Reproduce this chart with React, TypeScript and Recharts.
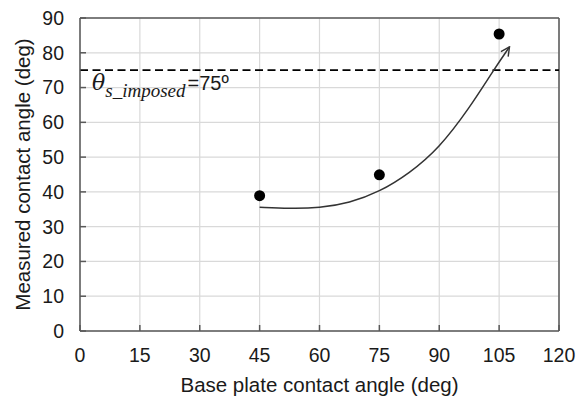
import React from "react";
import {
  CartesianGrid,
  ComposedChart,
  Label,
  Line,
  ReferenceLine,
  Scatter,
  XAxis,
  YAxis,
} from "recharts";

const X_TICKS = [0, 15, 30, 45, 60, 75, 90, 105, 120];
const Y_TICKS = [0, 10, 20, 30, 40, 50, 60, 70, 80, 90];

const measured = [
  { x: 45, y: 38.9 },
  { x: 75, y: 44.9 },
  { x: 105, y: 85.4 },
];

// hand-drawn trend arrow
const trend = [
  { x: 45, y: 35.6 },
  { x: 52.5, y: 35.2 },
  { x: 60, y: 35.35 },
  { x: 67.5, y: 36.8 },
  { x: 75, y: 40 },
  { x: 82.5, y: 45.3 },
  { x: 90, y: 52.6 },
  { x: 97.5, y: 64 },
  { x: 103.6, y: 75 },
  { x: 107.6, y: 81.7 },
];

const IMPOSED = 75;

const FONT = "'Liberation Sans', Arial, sans-serif";
const AXIS = "#595959";
const GRID = "#d9d9d9";

function ImposedLabel({ viewBox }: any) {
  const x = viewBox.x + 12;
  const y = viewBox.y + 20;
  return (
    <text x={x} y={y} fill="#1a1a1a">
      <tspan fontFamily="'DejaVu Serif', 'Liberation Serif', serif" fontStyle="italic" fontSize={22}>
        θ
      </tspan>
      <tspan
        fontFamily="'Liberation Serif', serif"
        fontStyle="italic"
        fontSize={19}
        dy={7}
      >
        s_imposed
      </tspan>
      <tspan fontFamily={FONT} fontSize={20} dx={2} dy={-7}>
        =75º
      </tspan>
    </text>
  );
}

export default function App() {
  return (
    <div style={{ position: "absolute", left: 0, top: 0, background: "#fff" }}>
      <svg width={0} height={0} style={{ position: "absolute" }}>
        <defs>
          <marker
            id="arrowHead"
            viewBox="0 0 10 10"
            refX={9}
            refY={5}
            markerWidth={11}
            markerHeight={11}
            markerUnits="userSpaceOnUse"
            orient="auto"
          >
            <path d="M1,1 L9,5 L1,9" fill="none" stroke="#333" strokeWidth={1.3} />
          </marker>
        </defs>
      </svg>
      <ComposedChart
        width={586}
        height={396}
        margin={{ top: 18, right: 27, bottom: 0, left: 0 }}
      >
        <CartesianGrid stroke={GRID} strokeWidth={1.2} />
        <XAxis
          type="number"
          dataKey="x"
          domain={[0, 120]}
          ticks={X_TICKS}
          interval={0}
          height={65}
          stroke={AXIS}
          strokeWidth={1.5}
          tickSize={-6}
          tickMargin={23}
          tick={{ fill: "#1a1a1a", fontSize: 19.5, fontFamily: FONT }}
          allowDataOverflow
        >
          <Label
            content={({ viewBox }: any) => (
              <text
                x={viewBox.x + viewBox.width / 2}
                y={viewBox.y + 61}
                textAnchor="middle"
                fill="#1a1a1a"
                fontSize={20.5}
                fontFamily={FONT}
              >
                Base plate contact angle (deg)
              </text>
            )}
          />
        </XAxis>
        <YAxis
          type="number"
          domain={[0, 90]}
          ticks={Y_TICKS}
          interval={0}
          width={80}
          stroke={AXIS}
          strokeWidth={1.5}
          tickSize={-6}
          tickMargin={22}
          tick={{ fill: "#1a1a1a", fontSize: 19.5, fontFamily: FONT }}
          allowDataOverflow
        >
          <Label
            content={({ viewBox }: any) => {
              const cx = viewBox.x + 22;
              const cy = viewBox.y + viewBox.height / 2;
              return (
                <text
                  x={cx}
                  y={cy}
                  transform={`rotate(-90 ${cx} ${cy})`}
                  textAnchor="middle"
                  dominantBaseline="central"
                  fill="#1a1a1a"
                  fontSize={20.5}
                  fontFamily={FONT}
                >
                  Measured contact angle (deg)
                </text>
              );
            }}
          />
        </YAxis>
        <ReferenceLine y={90} stroke={AXIS} strokeWidth={1.5} />
        <ReferenceLine x={120} stroke={AXIS} strokeWidth={1.5} />
        <ReferenceLine
          y={IMPOSED}
          stroke="#000"
          strokeWidth={1.8}
          strokeDasharray="8 4.5"
          label={<ImposedLabel />}
        />
        <Line
          data={trend}
          dataKey="y"
          type="basis"
          stroke="#333"
          strokeWidth={1.5}
          dot={false}
          activeDot={false}
          markerEnd="url(#arrowHead)"
          isAnimationActive={false}
        />
        <Scatter
          data={measured}
          dataKey="y"
          fill="#000"
          shape={(p: any) => <circle cx={p.cx} cy={p.cy} r={5.5} fill="#000" />}
          isAnimationActive={false}
        />
      </ComposedChart>
    </div>
  );
}
